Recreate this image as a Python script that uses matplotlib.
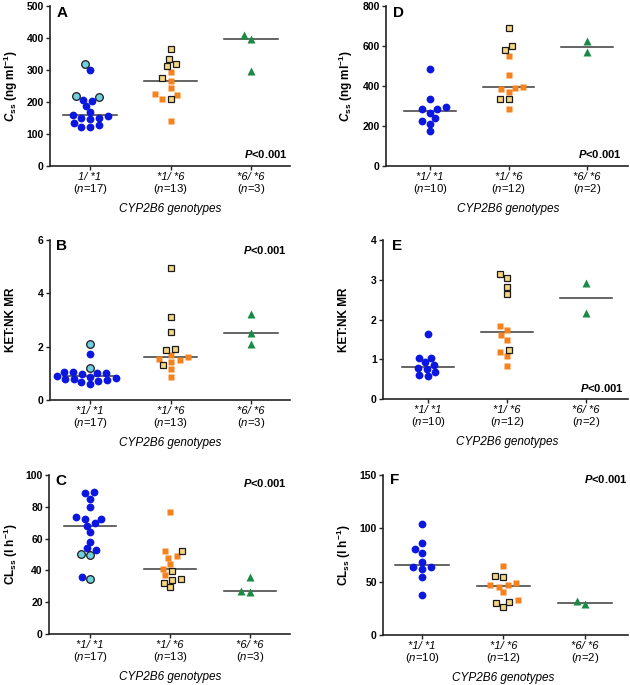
import numpy as np
import matplotlib.pyplot as plt

plt.rcParams['font.family'] = ['Liberation Sans', 'DejaVu Sans']
plt.rcParams['mathtext.fontset'] = 'custom'
plt.rcParams['mathtext.rm'] = 'Liberation Sans:bold'
plt.rcParams['mathtext.it'] = 'Liberation Sans:italic:bold'
plt.rcParams['mathtext.bf'] = 'Liberation Sans:bold'
plt.rcParams['mathtext.sf'] = 'Liberation Sans:italic'

# ---------------------------------------------------------------------------
# Data. "_ring" = outlined markers within each genotype
# ---------------------------------------------------------------------------
geno_a = ['1/ *1', '*1/ *6', '*6/ *6']      # as printed in panel A
geno = ['*1/ *1', '*1/ *6', '*6/ *6']

# A: Css (ng/ml), cohort 1
a11 = [301, 206, 202, 187, 158, 148, 150, 150, 155, 169, 127, 122, 123, 135]
a11_ring = [318, 219, 215]
a16 = [294, 266, 245, 224, 209, 221, 142]
a16_ring = [367, 334, 313, 320, 274, 208]
a66 = [408, 396, 298]

# B: KET:NK MR, cohort 1
b11 = [1.71, 0.91, 0.84, 1.05, 0.80, 0.675, 1.01, 0.61, 0.96, 0.70, 0.75,
       1.02, 0.80, 1.06, 0.87]
b11_ring = [2.11, 1.20]
b16 = [1.52, 1.60, 1.42, 1.68, 1.49, 1.16, 0.85]
b16_ring = [4.94, 3.10, 2.54, 1.89, 1.90, 1.30]
b66 = [3.24, 2.51, 2.11]

# C: CLss (l/h), cohort 1
c11 = [88.5, 89.3, 85.1, 79.9, 73.4, 72.2, 72.6, 68.2, 69.5, 64.4, 57.9,
       53.8, 52.7, 35.8]
c11_ring = [50.6, 49.6, 34.3]
c16 = [76.8, 51.9, 49.0, 48.1, 44.1, 40.8, 36.8]
c16_ring = [52.3, 39.7, 33.9, 34.3, 32.2, 29.3]
c66 = [36.0, 26.2, 27.0]

# D: Css (ng/ml), cohort 2
d11 = [485, 335, 293, 283, 285, 267, 238, 225, 210, 175]
d16 = [550, 453, 397, 385, 392, 368, 283]
d16_ring = [690, 602, 580, 335, 333]
d66 = [627, 568]

# E: KET:NK MR, cohort 2
e11 = [1.63, 1.04, 1.04, 0.92, 0.85, 0.78, 0.76, 0.68, 0.60, 0.57]
e16 = [1.84, 1.74, 1.61, 1.49, 1.18, 1.08, 0.83]
e16_ring = [3.14, 3.04, 2.81, 2.63, 1.24]
e66 = [2.93, 2.17]

# F: CLss (l/h), cohort 2
f11 = [104, 86.3, 80.6, 76.9, 68.1, 63.8, 61.9, 63.8, 54.1, 37.5]
f16 = [64.4, 49.1, 46.9, 45.3, 46.6, 40.0, 33.1]
f16_ring = [55.0, 54.1, 30.9, 30.0, 26.3]
f66 = [28.8, 31.6]

# ---------------------------------------------------------------------------
W, H = 630, 685
fig = plt.figure(figsize=(W / 100, H / 100), dpi=100)
PT = 100 / 72.0   # px per point


def fx(px):
    return px / W


def fy(py):
    return 1 - py / H


STYLES = [
    (dict(marker='o', ms=5.6, mfc='#0b16e0', mec='none'),
     dict(marker='o', ms=5.5, mfc='#6fcfe0', mec='#1a1a1a', mew=0.9)),
    (dict(marker='s', ms=5.0, mfc='#f5821f', mec='none'),
     dict(marker='s', ms=5.0, mfc='#f6d680', mec='#1a1a1a', mew=0.9)),
    (dict(marker='^', ms=5.2, mfc='#1a8a46', mec='none'), None),
]


def swarm(vals, sy, dxm=9.0, dym=6.5):
    # beeswarm in pixel space, elliptical footprint (points may overlap a bit)
    ys = np.asarray(vals, float) * sy
    xs = np.zeros(len(ys))
    placed = []

    def clash(x, y, px, py):
        return ((x - px) / dxm) ** 2 + ((y - py) / dym) ** 2 < 1 - 1e-6

    for i in np.argsort(ys):
        y = ys[i]
        near = [(px, py) for px, py in placed if abs(py - y) < dym]
        cands = [0.0]
        for px, py in near:
            dx = dxm * np.sqrt(1 - ((py - y) / dym) ** 2)
            cands += [px - dx, px + dx]
        cands.sort(key=lambda c: (abs(c), c))
        for c in cands:
            if not any(clash(c, y, px, py) for px, py in near):
                xs[i] = c
                break
        placed.append((xs[i], y))
    return xs


def panel(box, cats, groups, labels, ylim, yticks, ylabel, ylab_x, letter,
          letter_xy, ptxt_xy):
    L, R, T, B = box
    ax = fig.add_axes([fx(L), fy(B), (R - L) / W, (B - T) / H])
    unit = (cats[2] - cats[0]) / 2.0
    ax.set_xlim((L - cats[0]) / unit, (R - cats[0]) / unit)
    ax.set_ylim(*ylim)
    sy = (B - T) / (ylim[1] - ylim[0])

    for i, (plain, ring) in enumerate(groups):
        allv = list(plain) + list(ring)
        off = swarm(allv, sy) / unit
        n0 = len(plain)
        st_plain, st_ring = STYLES[i]
        ax.plot(i + off[:n0], plain, ls='none', zorder=3, **st_plain)
        if ring:
            ax.plot(i + off[n0:], ring, ls='none', zorder=4, **st_ring)
        med = np.median(allv)
        ax.plot([i - 0.33, i + 0.33], [med, med], color='#3a3a3a', lw=1.1,
                zorder=2)
        ax.annotate('($\\mathsf{n}$=%d)' % len(allv), xy=(i, 0),
                    xycoords=('data', 'axes fraction'),
                    xytext=(0, -23 / PT), textcoords='offset points',
                    ha='center', va='center', fontsize=8.2)

    for s in ['top', 'right']:
        ax.spines[s].set_visible(False)
    for s in ['left', 'bottom']:
        ax.spines[s].set_linewidth(1.2)
        ax.spines[s].set_color('#222222')
    ax.set_yticks(yticks)
    ax.set_xticks([0, 1, 2])
    ax.set_xticklabels(labels, fontstyle='italic', fontsize=8)
    ax.tick_params(axis='x', length=3, width=1, pad=1.5, color='#222222')
    ax.tick_params(axis='y', length=3, width=1, pad=1.5, labelsize=7.5,
                   color='#222222')
    for t in ax.get_yticklabels():
        t.set_fontweight('bold')

    fig.text(fx(ylab_x), fy((T + B) / 2), ylabel, rotation=90, ha='center',
             va='center', fontsize=8.5, fontweight='bold')
    fig.text(fx(letter_xy[0]), fy(letter_xy[1]), letter, ha='left',
             va='center', fontsize=11, fontweight='bold')
    fig.text(fx(ptxt_xy[0]), fy(ptxt_xy[1]), '$\\mathit{P}$<0.001',
             ha='right', va='center', fontsize=8, fontweight='bold')
    ax.annotate('CYP2B6 genotypes', xy=(1, 0),
                xycoords=('data', 'axes fraction'),
                xytext=(0, -43 / PT), textcoords='offset points',
                ha='center', va='center', fontsize=8.5, fontstyle='italic')
    return ax


css_lab = '$\\mathit{C}_{\\mathrm{ss}}$ (ng ml$^{\\mathrm{-1}}$)'
mr_lab = 'KET:NK MR'
cl_lab = 'CL$_{\\mathrm{ss}}$ (l h$^{\\mathrm{-1}}$)'

panel((50, 290, 6, 166), (90, 171, 251),
      [(a11, a11_ring), (a16, a16_ring), (a66, [])], geno_a,
      (0, 500), range(0, 501, 100), css_lab, 11, 'A', (57, 13), (287, 154))
panel((50, 290, 240, 400), (90, 171, 251),
      [(b11, b11_ring), (b16, b16_ring), (b66, [])], geno,
      (0, 6), range(0, 7, 2), mr_lab, 11, 'B', (56, 246), (286, 250))
panel((49, 290, 475, 634), (90, 170, 250),
      [(c11, c11_ring), (c16, c16_ring), (c66, [])], geno,
      (0, 100), range(0, 101, 20), cl_lab, 11, 'C', (55, 481), (286, 483))
panel((386, 628, 6, 166), (430, 508, 587),
      [(d11, []), (d16, d16_ring), (d66, [])], geno,
      (0, 800), range(0, 801, 200), css_lab, 346, 'D', (393, 13), (621, 154))
panel((383, 628, 240, 399), (428, 506, 586),
      [(e11, []), (e16, e16_ring), (e66, [])], geno,
      (0, 4), range(0, 5, 1), mr_lab, 344, 'E', (392, 246), (623, 388))
panel((383, 628, 475, 635), (422, 503, 585),
      [(f11, []), (f16, f16_ring), (f66, [])], geno,
      (0, 150), range(0, 151, 50), cl_lab, 344, 'F', (390, 480), (627, 479))

fig.savefig('out.png', dpi=100)
